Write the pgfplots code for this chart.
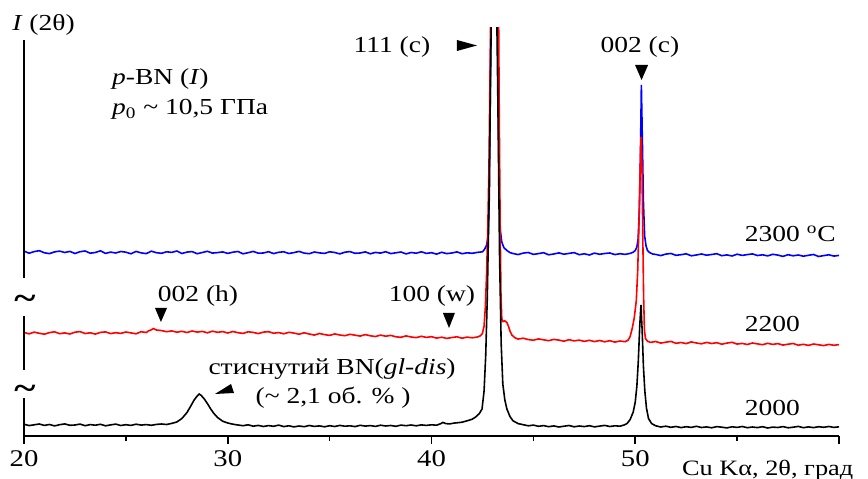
\documentclass[border=0pt]{standalone}
\usepackage{fontspec}
\setmainfont{Liberation Serif}[FakeStretch=1.2]
\usepackage{pgfplots}
\usepackage{pgfplotstable}
\pgfplotsset{compat=1.18}

% 2300 C
\pgfplotstableread[row sep=\\]{
x y\\
20.00 184.9\\ 20.25 182.8\\ 20.50 184.4\\ 20.75 185.3\\ 21.00 183.2\\ 21.25 182.4\\ 21.50 184.1\\ 21.75 184.9\\
22.00 183.5\\ 22.25 184.6\\ 22.50 182.5\\ 22.75 184.3\\ 23.00 185.0\\ 23.25 182.8\\ 23.50 183.5\\ 23.75 185.2\\
24.00 182.6\\ 24.25 183.9\\ 24.50 183.0\\ 24.75 184.5\\ 25.00 183.8\\ 25.25 182.2\\ 25.50 184.6\\ 25.75 183.1\\
26.00 182.4\\ 26.25 184.8\\ 26.50 183.3\\ 26.75 182.7\\ 27.00 184.2\\ 27.25 183.6\\ 27.50 185.0\\ 27.75 182.5\\
28.00 183.9\\ 28.25 184.4\\ 28.50 182.3\\ 28.75 183.5\\ 29.00 184.7\\ 29.25 182.9\\ 29.50 183.4\\ 29.75 184.1\\
30.00 182.6\\ 30.25 183.8\\ 30.50 184.5\\ 30.75 182.2\\ 31.00 183.3\\ 31.25 184.6\\ 31.50 182.8\\ 31.75 183.0\\
32.00 184.3\\ 32.25 182.4\\ 32.50 183.7\\ 32.75 184.2\\ 33.00 182.5\\ 33.25 183.4\\ 33.50 184.6\\ 33.75 182.9\\
34.00 182.3\\ 34.25 184.0\\ 34.50 183.1\\ 34.75 182.6\\ 35.00 184.2\\ 35.25 183.5\\ 35.50 182.1\\ 35.75 183.8\\
36.00 184.4\\ 36.25 182.7\\ 36.50 183.0\\ 36.75 184.1\\ 37.00 182.2\\ 37.25 183.6\\ 37.50 182.9\\ 37.75 184.3\\
38.00 182.4\\ 38.25 183.2\\ 38.50 184.0\\ 38.75 182.1\\ 39.00 183.5\\ 39.25 182.8\\ 39.50 184.2\\ 39.75 182.6\\
40.00 183.3\\ 40.25 181.9\\ 40.50 183.7\\ 40.75 182.4\\ 41.00 183.0\\ 41.25 184.1\\ 41.50 182.3\\ 41.75 183.2\\
42.00 182.7\\ 42.25 183.6\\ 42.50 184.2\\ 42.60 186.5\\ 42.70 190.5\\ 42.78 199\\ 42.84 240\\ 42.88 330\\
42.92 420\\ 43.08 1500\\ 43.24 420\\ 43.28 330\\ 43.32 240\\ 43.38 205\\ 43.45 194\\ 43.55 188.5\\
43.70 185.5\\ 43.85 183.4\\ 44.00 182.5\\ 44.25 181.4\\ 44.50 182.9\\ 44.75 183.5\\ 45.00 181.6\\ 45.25 182.4\\
45.50 183.3\\ 45.75 181.2\\ 46.00 182.0\\ 46.25 183.1\\ 46.50 181.8\\ 46.75 182.6\\ 47.00 183.4\\ 47.25 181.3\\
47.50 182.2\\ 47.75 181.0\\ 48.00 182.9\\ 48.25 181.7\\ 48.50 182.5\\ 48.75 183.0\\ 49.00 181.4\\ 49.25 182.3\\
49.50 181.6\\ 49.75 182.6\\ 49.90 183.8\\ 50.00 185.5\\ 50.08 189\\ 50.14 197\\ 50.20 225\\ 50.25 275\\
50.30 351\\ 50.35 295\\ 50.40 235\\ 50.46 200\\ 50.53 190\\ 50.60 185.5\\ 50.70 183.5\\ 50.85 182.0\\
51.00 181.6\\ 51.25 180.4\\ 51.50 181.9\\ 51.75 182.5\\ 52.00 180.7\\ 52.25 181.3\\ 52.50 182.2\\ 52.75 180.2\\
53.00 181.0\\ 53.25 182.0\\ 53.50 180.8\\ 53.75 181.5\\ 54.00 182.3\\ 54.25 180.3\\ 54.50 181.1\\ 54.75 180.0\\
55.00 181.8\\ 55.25 180.6\\ 55.50 181.4\\ 55.75 182.1\\ 56.00 180.5\\ 56.25 181.2\\ 56.50 180.1\\ 56.75 181.7\\
57.00 180.9\\ 57.25 179.6\\ 57.50 181.3\\ 57.75 180.2\\ 58.00 181.0\\ 58.25 179.8\\ 58.50 180.7\\ 58.75 181.5\\
59.00 179.5\\ 59.25 180.4\\ 59.50 181.2\\ 59.75 179.9\\ 60.00 180.6\\
}\blueT

% 2200 C
\pgfplotstableread[row sep=\\]{
x y\\
20.00 103.6\\ 20.25 102.1\\ 20.50 103.9\\ 20.75 102.7\\ 21.00 101.8\\ 21.25 103.4\\ 21.50 104.2\\ 21.75 102.3\\
22.00 103.1\\ 22.25 102.0\\ 22.50 103.8\\ 22.75 104.4\\ 23.00 102.5\\ 23.25 103.2\\ 23.50 101.9\\ 23.75 103.6\\
24.00 104.1\\ 24.25 102.4\\ 24.50 103.3\\ 24.75 102.6\\ 25.00 104.0\\ 25.25 103.1\\ 25.50 102.2\\ 25.75 104.3\\
26.00 103.5\\ 26.10 105.0\\ 26.25 106.2\\ 26.35 107.5\\ 26.50 106.0\\ 26.75 105.4\\ 27.00 104.3\\ 27.25 105.1\\
27.50 103.8\\ 27.75 104.7\\ 28.00 103.5\\ 28.25 105.0\\ 28.50 103.9\\ 28.75 104.6\\ 29.00 103.2\\ 29.25 104.8\\
29.50 103.7\\ 29.75 104.4\\ 30.00 103.0\\ 30.25 104.5\\ 30.50 103.3\\ 30.75 102.6\\ 31.00 104.2\\ 31.25 103.6\\
31.50 102.4\\ 31.75 103.9\\ 32.00 104.3\\ 32.25 102.8\\ 32.50 103.4\\ 32.75 102.2\\ 33.00 103.7\\ 33.25 102.9\\
33.50 101.8\\ 33.75 103.2\\ 34.00 102.0\\ 34.25 100.9\\ 34.50 102.5\\ 34.75 101.4\\ 35.00 100.6\\ 35.25 102.1\\
35.50 101.0\\ 35.75 100.3\\ 36.00 101.7\\ 36.25 100.8\\ 36.50 99.9\\ 36.75 101.4\\ 37.00 100.2\\ 37.25 99.5\\
37.50 100.9\\ 37.75 99.8\\ 38.00 100.6\\ 38.25 99.2\\ 38.50 98.7\\ 38.75 100.1\\ 39.00 99.0\\ 39.25 98.4\\
39.50 99.7\\ 39.75 98.6\\ 40.00 99.3\\ 40.25 97.9\\ 40.50 98.8\\ 40.75 97.6\\ 41.00 98.5\\ 41.25 99.2\\
41.50 97.8\\ 41.75 98.9\\ 42.00 98.2\\ 42.25 99.0\\ 42.40 100.2\\ 42.50 102.5\\ 42.58 110\\ 42.64 128\\
42.70 160\\ 42.76 205\\ 42.82 270\\ 42.87 360\\ 42.91 430\\ 43.10 1500\\ 43.29 430\\ 43.33 310\\
43.37 210\\ 43.41 140\\ 43.45 117\\ 43.50 114.5\\ 43.60 115.2\\ 43.70 113.5\\ 43.78 109.5\\ 43.86 104.5\\
43.95 100.8\\ 44.10 98.2\\ 44.25 96.9\\ 44.50 97.8\\ 44.75 96.4\\ 45.00 95.8\\ 45.25 97.1\\ 45.50 96.2\\
45.75 95.3\\ 46.00 96.6\\ 46.25 95.9\\ 46.50 94.8\\ 46.75 96.3\\ 47.00 95.1\\ 47.25 95.9\\ 47.50 94.6\\
47.75 95.7\\ 48.00 94.4\\ 48.25 95.5\\ 48.50 94.2\\ 48.75 95.3\\ 49.00 93.9\\ 49.25 95.0\\ 49.50 94.3\\
49.65 95.8\\ 49.75 99.5\\ 49.85 107.5\\ 49.95 118\\ 50.05 135\\ 50.12 165\\ 50.18 210\\ 50.23 258\\
50.28 299\\ 50.33 268\\ 50.37 200\\ 50.41 140\\ 50.45 106\\ 50.50 97.5\\ 50.60 94.8\\ 50.75 93.6\\
51.00 94.5\\ 51.25 92.9\\ 51.50 93.8\\ 51.75 94.6\\ 52.00 92.7\\ 52.25 93.5\\ 52.50 92.4\\ 52.75 94.1\\
53.00 93.0\\ 53.25 92.2\\ 53.50 93.6\\ 53.75 92.5\\ 54.00 93.3\\ 54.25 91.8\\ 54.50 92.9\\ 54.75 93.7\\
55.00 91.9\\ 55.25 92.6\\ 55.50 91.5\\ 55.75 93.0\\ 56.00 92.1\\ 56.25 91.3\\ 56.50 92.7\\ 56.75 91.6\\
57.00 92.4\\ 57.25 90.9\\ 57.50 91.8\\ 57.75 92.5\\ 58.00 90.8\\ 58.25 91.7\\ 58.50 90.6\\ 58.75 92.0\\
59.00 91.2\\ 59.25 90.4\\ 59.50 91.6\\ 59.75 90.7\\ 60.00 91.4\\
}\redT

% 2000 C
\pgfplotstableread[row sep=\\]{
x y\\
20.00 11.8\\ 20.25 10.4\\ 20.50 11.2\\ 20.75 12.0\\ 21.00 10.6\\ 21.25 11.5\\ 21.50 10.1\\ 21.75 11.3\\
22.00 12.1\\ 22.25 10.7\\ 22.50 11.0\\ 22.75 11.9\\ 23.00 10.3\\ 23.25 11.4\\ 23.50 10.8\\ 23.75 11.7\\
24.00 10.2\\ 24.25 11.1\\ 24.50 11.9\\ 24.75 10.5\\ 25.00 11.3\\ 25.25 10.6\\ 25.50 11.8\\ 25.75 10.9\\
26.00 11.4\\ 26.25 10.7\\ 26.50 11.6\\ 26.75 12.0\\ 27.00 11.5\\ 27.25 12.6\\ 27.50 14.0\\ 27.75 17.5\\
28.00 23.5\\ 28.20 30.5\\ 28.35 36.0\\ 28.50 40.0\\ 28.60 42.0\\ 28.70 40.5\\ 28.85 37.0\\ 29.00 32.5\\
29.15 27.5\\ 29.30 23.0\\ 29.50 18.5\\ 29.75 14.8\\ 30.00 13.0\\ 30.25 11.8\\ 30.50 11.0\\ 30.75 10.3\\
31.00 11.2\\ 31.25 9.8\\ 31.50 10.6\\ 31.75 9.5\\ 32.00 10.4\\ 32.25 9.7\\ 32.50 10.9\\ 32.75 9.4\\
33.00 10.2\\ 33.25 9.1\\ 33.50 10.0\\ 33.75 9.3\\ 34.00 10.5\\ 34.25 9.6\\ 34.50 10.1\\ 34.75 9.2\\
35.00 10.3\\ 35.25 9.5\\ 35.50 10.6\\ 35.75 9.8\\ 36.00 10.2\\ 36.25 9.4\\ 36.50 10.7\\ 36.75 9.9\\
37.00 10.4\\ 37.25 9.6\\ 37.50 10.8\\ 37.75 10.0\\ 38.00 10.5\\ 38.25 9.7\\ 38.50 10.9\\ 38.75 10.3\\
39.00 11.0\\ 39.25 10.2\\ 39.50 11.1\\ 39.75 10.6\\ 40.00 11.2\\ 40.25 10.8\\ 40.45 12.3\\ 40.56 13.6\\
40.70 12.4\\ 40.90 12.1\\ 41.10 12.9\\ 41.30 13.3\\ 41.50 13.8\\ 41.75 15.2\\ 42.00 16.8\\ 42.20 19.5\\
42.35 22.5\\ 42.48 27\\ 42.58 45\\ 42.66 80\\ 42.74 140\\ 42.82 230\\ 42.90 360\\ 42.96 460\\
43.07 1500\\ 43.18 460\\ 43.26 330\\ 43.34 180\\ 43.42 92\\ 43.50 52\\ 43.60 36\\ 43.70 27\\
43.85 19.5\\ 44.00 15.2\\ 44.25 12.4\\ 44.50 11.3\\ 44.75 10.2\\ 45.00 10.9\\ 45.25 9.7\\ 45.50 10.4\\
45.75 9.3\\ 46.00 10.1\\ 46.25 9.0\\ 46.50 9.8\\ 46.75 10.5\\ 47.00 9.2\\ 47.25 10.0\\ 47.50 9.4\\
47.75 10.3\\ 48.00 9.1\\ 48.25 9.9\\ 48.50 10.6\\ 48.75 9.5\\ 49.00 10.2\\ 49.25 9.8\\ 49.45 11.0\\
49.60 12.5\\ 49.75 16.5\\ 49.90 24\\ 50.00 34\\ 50.08 50\\ 50.15 75\\ 50.22 110\\ 50.28 131\\
50.34 105\\ 50.40 70\\ 50.47 45\\ 50.55 28\\ 50.65 17.5\\ 50.80 12.5\\ 51.00 10.2\\ 51.25 9.0\\
51.50 9.8\\ 51.75 8.7\\ 52.00 9.5\\ 52.25 8.4\\ 52.50 9.3\\ 52.75 8.6\\ 53.00 9.7\\ 53.25 8.5\\
53.50 9.1\\ 53.75 8.2\\ 54.00 9.4\\ 54.25 8.8\\ 54.50 8.1\\ 54.75 9.2\\ 55.00 8.6\\ 55.25 9.5\\
55.50 8.3\\ 55.75 9.0\\ 56.00 8.4\\ 56.25 9.3\\ 56.50 8.0\\ 56.75 8.9\\ 57.00 8.5\\ 57.25 9.4\\
57.50 8.2\\ 57.75 8.8\\ 58.00 9.6\\ 58.25 8.3\\ 58.50 9.1\\ 58.75 8.4\\ 59.00 9.3\\ 59.25 8.7\\
59.50 9.5\\ 59.75 8.6\\ 60.00 9.2\\
}\blackT

\begin{document}
\begin{tikzpicture}[font=\fontsize{11.5}{13}\selectfont]
\useasboundingbox (-12bp,-21.5bp) rectangle (422bp,218bp);
\begin{axis}[
	at={(0,0)}, anchor=south west,
	scale only axis, width=407.5bp, height=204bp,
	xmin=20, xmax=60, ymin=0, ymax=408,
	axis x line*=bottom, axis y line=none,
	x axis line style={line width=0.8pt},
	xtick={20,30,40,50,60}, xticklabels={20,30,40,50,},
	minor xtick={25,35,45,55},
	tick align=outside,
	major tick length=4bp, minor tick length=2.5bp,
	every tick/.append style={black, line width=0.8pt},
	xticklabel style={anchor=base, yshift=-11bp, font=\fontsize{12}{13}\selectfont},
	clip mode=individual,
	every axis plot/.append style={line width=0.8pt},
]
	\addplot[blue] table {\blueT};
	\addplot[red] table {\redT};
	\addplot[black] table {\blackT};

	% broken intensity axis
	\draw[line width=0.8pt] (20,396) -- (20,158);
	\draw[line width=0.8pt] (20,120) -- (20,66);
	\draw[line width=0.8pt] (20,38) -- (20,0);
	\node[font=\fontsize{17}{17}\selectfont\bfseries, inner sep=0pt] at (20.05,134) {\textasciitilde};
	\node[font=\fontsize{17}{17}\selectfont\bfseries, inner sep=0pt] at (20.05,44) {\textasciitilde};

	\node at (20.96,411) {\textit{I} (2θ)};
	\node[anchor=base west] at (23.98,351) {\textit{p}-BN (\textit{I})};
	\node[anchor=base west] at (23.98,321) {\textit{p}\textsubscript{0} \textasciitilde{} 10,5 ГПа};

	\node[anchor=base] at (38.06,383) {111 (c)};
	\fill (41.25,396) -- (41.25,385) -- (42.23,390.5) -- cycle;
	\node[anchor=base] at (50.23,383) {002 (c)};
	\fill (49.99,371) -- (50.63,371) -- (50.31,356) -- cycle;

	\node[anchor=base] at (28.54,134) {002 (h)};
	\fill (26.43,128) -- (27.02,128) -- (26.72,114) -- cycle;
	\node[anchor=base] at (40.02,134) {100 (w)};
	\fill (40.56,123) -- (41.15,123) -- (40.86,108) -- cycle;

	\node[anchor=base] at (35.12,61) {стиснутий BN(\textit{gl-dis})};
	\node[anchor=base] at (35.17,33) {(\textasciitilde{} 2,1 об. \% )};
	\fill (29.37,42) -- (30.16,52) -- (30.31,43) -- cycle;

	\node[anchor=base west] at (55.04,194) {2300 \textsuperscript{o}C};
	\node[anchor=base west] at (55.04,104) {2200};
	\node[anchor=base west] at (55.04,21) {2000};

	\node[anchor=base, font=\fontsize{11}{12}\selectfont] at (56.5,-39) {Cu Kα, 2θ, град};
\end{axis}
\end{tikzpicture}
\end{document}
